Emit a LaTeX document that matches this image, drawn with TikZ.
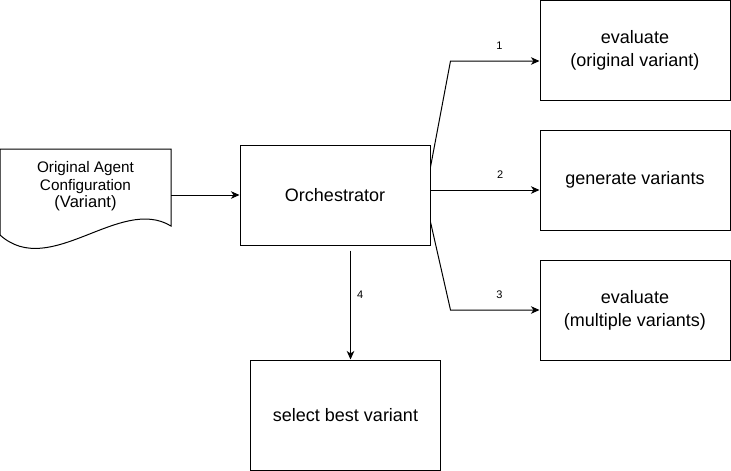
\documentclass[tikz,border=0pt]{standalone}
\usepackage{fontspec}
\setmainfont{Liberation Sans}
\usetikzlibrary{arrows.meta}
\usetikzlibrary{positioning}

\begin{document}
\begin{tikzpicture}[x=1pt,y=-1pt,
        box/.style={draw,line width=1pt,minimum width=190pt,minimum height=100pt,
            align=center,font=\fontsize{18}{23}\selectfont},
        arr/.style={line width=1pt,-{Stealth[length=8.5pt,width=7.5pt,inset=2.5pt]}},
        lbl/.style={inner sep=0pt,font=\fontsize{11}{13}\selectfont}]
    \useasboundingbox (0,0) rectangle (731,471);

    % input document
    \node[minimum width=171pt,inner sep=0pt,align=center,
        font=\fontsize{15.3}{17.5}\selectfont] (doc) at (85.5,186.5)
        {Original Agent\\Configuration\\{\fontsize{16.5}{17.5}\selectfont(Variant)}};
    \draw[line width=1pt] (0,149) -- (171,149) -- (171,226)
        .. controls (120,195) and (50,280) .. (0,235) -- cycle;

    % orchestrator and the steps
    \node[box] (orch) at (335,195) {Orchestrator};
    \node[box] (evalorig) at (635,50.5) {evaluate\\(original variant)};
    \node[box] (gen) at (635,180) {\raisebox{-2pt}{generate variants}};
    \node[box] (evalmult) at (635,310) {evaluate\\(multiple variants)};
    \node[box,minimum height=110pt] (select) at (345.5,415) {select best variant};

    % connectors
    \draw[arr] (doc.east |- orch.west) -- (orch.west);
    \draw[arr] ([yshift=28pt]orch.east) -- ([xshift=-89pt,yshift=-10.5pt]evalorig.west)
        -- node[lbl,pos=0.55,above=11pt] (n1) {1} ([yshift=-10.5pt]evalorig.west);
    \draw[arr] ([yshift=5pt]orch.east)
        -- node[lbl,pos=0.64,above=11pt] (n2) {2} ([yshift=-10pt]gen.west);
    \draw[arr] ([yshift=-27pt]orch.east) -- ([xshift=-89pt]evalmult.west)
        -- node[lbl,pos=0.55,above=11pt] (n3) {3} (evalmult.west);
    \draw[arr] ([xshift=15.5pt,yshift=-5pt]orch.south)
        -- node[lbl,pos=0.41,right=6pt] (n4) {4} ([xshift=5pt]select.north);
\end{tikzpicture}
\end{document}
